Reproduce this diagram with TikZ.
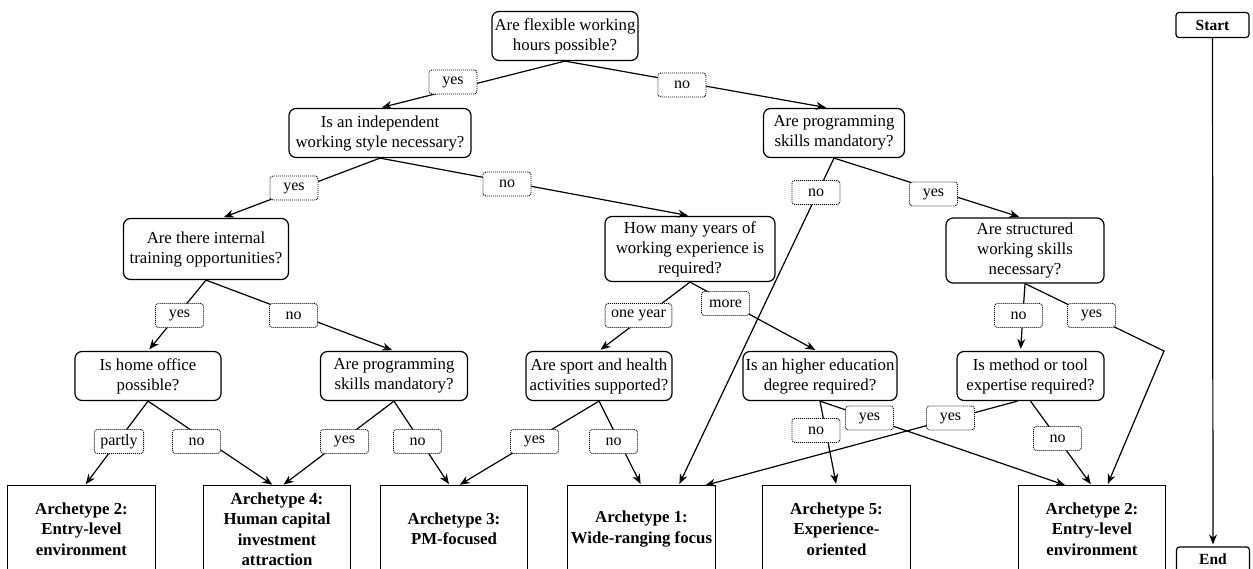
\documentclass[tikz,border=0pt]{standalone}
\usepackage{fontspec}
\setmainfont{Liberation Serif}
\usetikzlibrary{arrows.meta,calc}

\begin{document}
\begin{tikzpicture}[x=1pt,y=1pt,yscale=-1,xscale=1,
  qbox/.style={draw, line width=1.2pt, rounded corners=7pt, align=center, inner xsep=1pt, inner ysep=0pt, minimum height=49pt, font=\fontsize{16.8}{20}\selectfont},
  archbox/.style={align=center, inner xsep=1pt, inner ysep=0pt, minimum width=147pt, minimum height=86pt, font=\fontsize{16.8}{20.5}\selectfont\bfseries},
  endbox/.style={draw, line width=1.2pt, rounded corners=3pt, minimum width=73pt, minimum height=25pt, inner sep=0pt, font=\fontsize{15.5}{18}\selectfont\bfseries},
  answer/.style={draw, fill=white, line width=0.9pt, dash pattern=on 1pt off 1pt, rounded corners=3pt, minimum width=48pt, minimum height=24pt, inner xsep=6pt, inner ysep=0pt, font=\fontsize{16}{18}\selectfont},
  flow/.style={line width=1.2pt, -{Stealth[length=10pt,width=8pt]}, shorten >=2pt}]
\useasboundingbox (0,0) rectangle (1253,568);
\clip (0,0) rectangle (1253,568);

%Shape: Questions
\node[qbox, minimum width=146pt] (q1) at (565,36) {Are flexible working\\hours possible?};
\node[qbox, minimum width=182pt] (q2) at (380,133) {Is an independent\\working style necessary?};
\node[qbox, minimum width=141pt] (q3) at (834,133) {Are programming\\skills mandatory?};
\node[qbox, minimum width=165pt, minimum height=61pt] (q4) at (206,249) {Are there internal\\training opportunities?};
\node[qbox, minimum width=170pt, minimum height=65pt] (q5) at (690,249) {How many years of\\working experience is\\required?};
\node[qbox, minimum width=158pt, minimum height=65pt] (q6) at (1025,250.5) {Are structured\\working skills\\necessary?};
\node[qbox, minimum width=146pt] (q7) at (148,376) {Is home office\\possible?};
\node[qbox, minimum width=147pt] (q8) at (394,376) {Are programming\\skills mandatory?};
\node[qbox, minimum width=146pt] (q9) at (599,376) {Are sport and health\\activities supported?};
\node[qbox, minimum width=154pt] (q10) at (820,376) {Is an higher education\\degree required?};
\node[qbox, minimum width=147pt] (q11) at (1030.5,376) {Is method or tool\\expertise required?};

%Shape: Archetypes
\node[archbox] (a2l) at (81.5,529) {Archetype 2:\\Entry-level\\environment};
\node[archbox] (a4) at (277,529) {Archetype 4:\\Human capital\\investment\\attraction};
\node[archbox] (a3) at (454,529) {Archetype 3:\\PM-focused};
\node[archbox] (a1) at (641.5,529) {Archetype 1:\\Wide-ranging focus};
\node[archbox] (a5) at (836.5,529) {Archetype 5:\\Experience-\\oriented};
\node[archbox] (a2r) at (1092,529) {Archetype 2:\\Entry-level\\environment};
\foreach \a in {a2l,a4,a3,a1,a5,a2r}
  \draw[line width=1.2pt] (\a.north west) rectangle ($(\a.south east)+(0,14)$);

%Shape: Start and End
\node[endbox] (start) at (1212.5,25) {Start};
\node[endbox] (end) at (1213,559.5) {End};
\coordinate (q6bend) at (1164,351);

%Straight Lines
\draw[flow] (q1.south) -- (q2.north);
\draw[flow] (q1.south) -- ([xshift=-6pt]q3.north);
\draw[flow] (q2.south) -- ([xshift=16pt]q4.north);
\draw[flow] (q2.south) -- (q5.north);
\draw[flow] (q3.south) -- ([xshift=37pt]a1.north);
\draw[flow] (q3.south) -- ([xshift=-4pt]q6.north);
\draw[flow] (q4.south) -- (q7.north);
\draw[flow] (q4.south) -- (q8.north);
\draw[flow] (q5.south) -- (q9.north);
\draw[flow] (q5.south) -- ([xshift=-3pt]q10.north);
\draw[flow] (q6.south) -- ([xshift=-10pt]q11.north);
\draw[flow] (q6.south) -- (q6bend) -- ([xshift=15pt]a2r.north);
\draw[flow] (q7.south) -- ([xshift=3pt]a2l.north);
\draw[flow] (q7.south) -- ([xshift=-3pt]a4.north);
\draw[flow] (q8.south) -- ([xshift=5pt]a4.north);
\draw[flow] (q8.south) -- ([xshift=-4pt]a3.north);
\draw[flow] (q9.south) -- ([xshift=4pt]a3.north);
\draw[flow] (q9.south) -- (a1.north);
\draw[flow] (q10.south) -- (a5.north);
\draw[flow] (q10.south) -- ([xshift=-25pt]a2r.north);
\draw[flow] ([xshift=-13pt]q11.south) -- ([xshift=62pt]a1.north);
\draw[flow] (q11.south) -- (a2r.north);
\draw[flow] (start.south) -- (end.north);

% Text Node: answers
\node[answer] (q1yes) at (453,82) {yes};
\node[answer] (q1no) at (682,85) {no};
\node[answer] (q2yes) at (294,188) {yes};
\node[answer] (q2no) at (507,184) {no};
\node[answer] (q3no) at (816,192.5) {no};
\node[answer] (q3yes) at (933.5,194) {yes};
\node[answer] (q4yes) at (179.5,315.5) {yes};
\node[answer] (q4no) at (293.5,315.5) {no};
\node[answer] (q5one) at (638.5,315.5) {one year};
\node[answer] (q5more) at (725.5,303.5) {more};
\node[answer] (q6no) at (1018.5,315.5) {no};
\node[answer] (q6yes) at (1091.5,315.5) {yes};
\node[answer] (q7partly) at (119,441.5) {partly};
\node[answer] (q7no) at (196.5,441.5) {no};
\node[answer] (q8yes) at (344.5,441.5) {yes};
\node[answer] (q8no) at (417.5,441.5) {no};
\node[answer] (q9yes) at (534.5,441.5) {yes};
\node[answer] (q9no) at (613.5,441.5) {no};
\node[answer] (q10no) at (816,430.5) {no};
\node[answer] (q10yes) at (869.5,418) {yes};
\node[answer] (q11yes) at (950.5,418) {yes};
\node[answer] (q11no) at (1057.5,438.5) {no};

\end{tikzpicture}
\end{document}
